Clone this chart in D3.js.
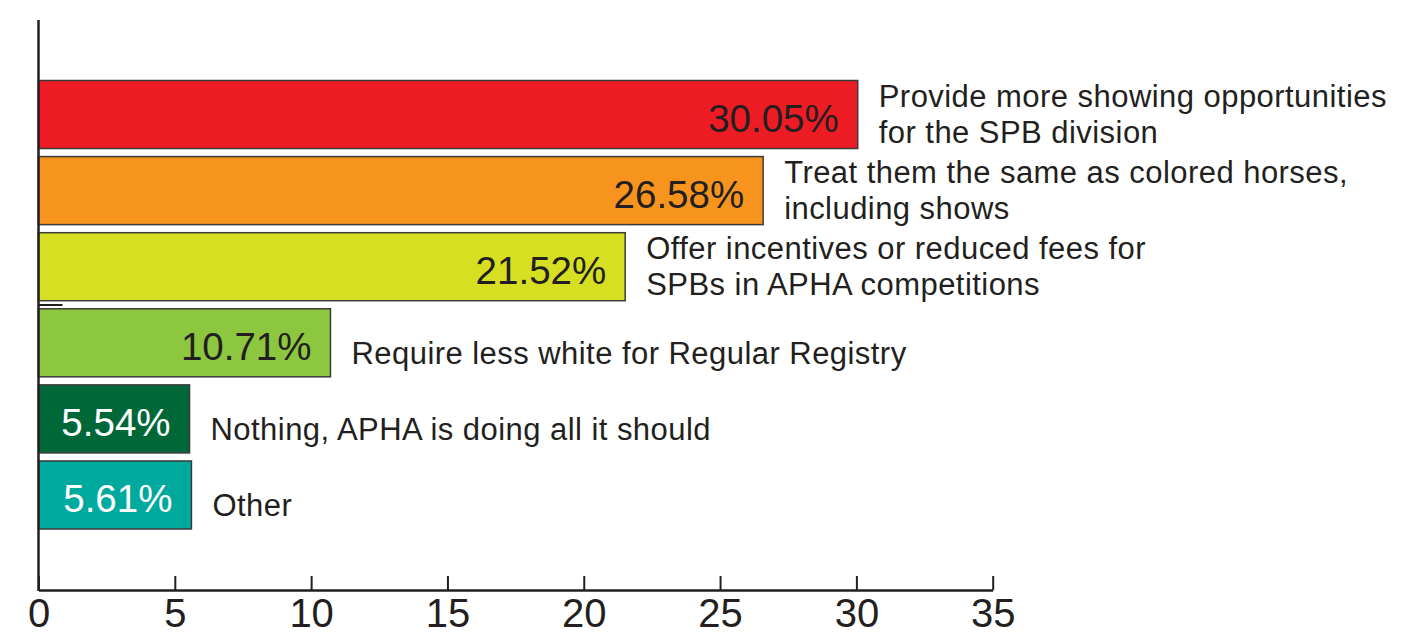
<!DOCTYPE html>
<html>
<head>
<meta charset="utf-8">
<script src="https://cdn.jsdelivr.net/npm/d3@7"></script>
<style>
  body { margin: 0; background: #fff; }
  svg { display: block; font-family: "Liberation Sans", Arial, Helvetica, sans-serif; }
</style>
</head>
<body>
<svg id="chart"></svg>
<script>
const categories = [
  ["Provide more showing opportunities", "for the SPB division"],
  ["Treat them the same as colored horses,", "including shows"],
  ["Offer incentives or reduced fees for", "SPBs in APHA competitions"],
  ["Require less white for Regular Registry"],
  ["Nothing, APHA is doing all it should"],
  ["Other"]
];
const values = [30.05, 26.58, 21.52, 10.71, 5.54, 5.61];
const colors = ["#ED1C24", "#F7941E", "#D7DF23", "#8DC63F", "#006838", "#00A99D"];
const valueTextColors = ["#231F20", "#231F20", "#231F20", "#231F20", "#ffffff", "#ffffff"];
const xTicks = [0, 5, 10, 15, 20, 25, 30, 35];

const width = 1401;
const height = 634;
const ink = "#231F20";

const svg = d3.select("#chart").attr("width", width).attr("height", height);

const x = d3.scaleLinear().domain([0, 35]).range([38.5, 992.7]);
const y = d3
  .scaleBand()
  .domain(d3.range(values.length))
  .range([80.5, 529])
  .paddingInner(0.106)
  .paddingOuter(0);

// bars
const rows = svg
  .append("g")
  .selectAll("g")
  .data(values)
  .join("g");

rows
  .append("rect")
  .attr("x", x(0))
  .attr("y", (d, i) => y(i))
  .attr("width", (d) => x(d) - x(0))
  .attr("height", y.bandwidth())
  .attr("fill", (d, i) => colors[i])
  .attr("stroke", "#3b3b3b")
  .attr("stroke-width", 1.5);

rows
  .append("text")
  .attr("x", (d) => x(d) - 19)
  .attr("y", (d, i) => y(i) + y.bandwidth() / 2 + 17)
  .attr("text-anchor", "end")
  .attr("font-size", 38.5)
  .attr("fill", (d, i) => valueTextColors[i])
  .text((d) => d.toFixed(2) + "%");

// category labels
rows
  .append("text")
  .attr("font-size", 31)
  .attr("letter-spacing", 0.45)
  .attr("fill", ink)
  .each(function (d, i) {
    const lines = categories[i];
    const cy = y(i) + y.bandwidth() / 2;
    const t = d3.select(this);
    lines.forEach((line, j) => {
      const base = lines.length === 1 ? cy + 21 : cy - 8 + j * 36;
      t.append("tspan").attr("x", x(d) + 21).attr("y", base).text(line);
    });
  });

// x axis
svg
  .append("g")
  .attr("transform", `translate(0,590)`)
  .call(d3.axisBottom(x).tickValues(xTicks).tickSize(-14).tickSizeOuter(0).tickPadding(9))
  .call((g) => g.select(".domain").attr("stroke", ink).attr("stroke-width", 2.5))
  .call((g) => g.selectAll(".tick line").attr("stroke", ink).attr("stroke-width", 2))
  .call((g) =>
    g
      .selectAll(".tick text")
      .attr("fill", ink)
      .attr("font-size", 40)
      .attr("font-family", "Liberation Sans, Arial, sans-serif")
  );

// y axis line
svg
  .append("line")
  .attr("x1", x(0))
  .attr("x2", x(0))
  .attr("y1", 20)
  .attr("y2", 591)
  .attr("stroke", ink)
  .attr("stroke-width", 2.5);

// stray tick mark present in the original
svg
  .append("line")
  .attr("x1", x(0))
  .attr("x2", x(0) + 24)
  .attr("y1", 305)
  .attr("y2", 305)
  .attr("stroke", ink)
  .attr("stroke-width", 2);
</script>
</body>
</html>
